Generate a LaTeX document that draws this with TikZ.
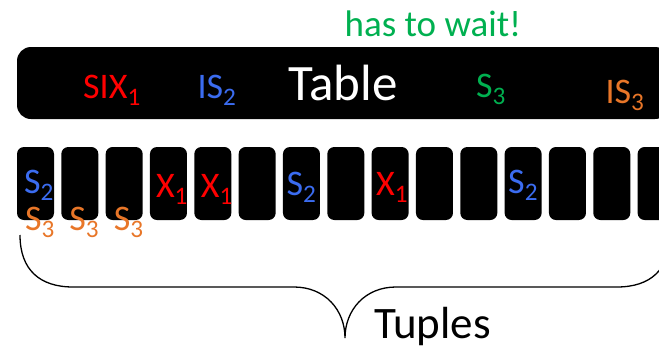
\documentclass[tikz,border=0pt]{standalone}
\usepackage{fontspec}
\setmainfont{Carlito}
\definecolor{lockred}{RGB}{255,0,0}
\definecolor{lockblue}{RGB}{59,108,240}
\definecolor{lockgreen}{RGB}{0,176,80}
\definecolor{lockorange}{RGB}{232,118,40}
\begin{document}
\begin{tikzpicture}[x=1pt, y=-1pt,
    bar/.style={fill=black, text=white, rounded corners=14, minimum width=652, minimum height=72, inner sep=0, font=\fontsize{51}{51}\selectfont},
    tuple/.style={fill=black, rounded corners=7, minimum width=37, minimum height=73, inner sep=0},
    lock/.style={anchor=base, inner sep=0, font=\fontsize{36}{36}\selectfont}]
    \useasboundingbox (0,0) rectangle (659,351);
    \clip (0,0) rectangle (659,351);
    \node[lock, text=lockgreen, font=\fontsize{37}{37}\selectfont] (wait) at (433,36) {has to wait!};
    \node[bar] (table) at (343,83) {Table};
    \node[lock, text=lockred] (six1) at (112,98) {SIX\textsubscript{1}};
    \node[lock, text=lockblue] (is2) at (217,98) {IS\textsubscript{2}};
    \node[lock, text=lockgreen] (s3) at (491,97) {S\textsubscript{3}};
    \node[lock, text=lockorange] (is3) at (625,103) {IS\textsubscript{3}};
    \foreach \i in {1,...,15}
        \node[tuple] (t\i) at ({35.5+44.33*(\i-1)},183.5) {};
    \node[lock, text=lockblue] (t1s2) at ([shift={(3.5,9.5)}]t1.center) {S\textsubscript{2}};
    \foreach \i in {1,2,3}
        \node[lock, text=lockorange] (t\i s3) at ([shift={(4.5,46.5)}]t\i.center) {S\textsubscript{3}};
    \node[lock, text=lockred] (t4x1) at ([shift={(3.5,13.5)}]t4.center) {X\textsubscript{1}};
    \node[lock, text=lockred] (t5x1) at ([shift={(4,13.5)}]t5.center) {X\textsubscript{1}};
    \node[lock, text=lockblue] (t7s2) at ([shift={(0,11.5)}]t7.center) {S\textsubscript{2}};
    \node[lock, text=lockred] (t9x1) at ([shift={(2,11.5)}]t9.center) {X\textsubscript{1}};
    \node[lock, text=lockblue] (t12s2) at ([shift={(0,9.5)}]t12.center) {S\textsubscript{2}};
    \draw[line width=1.3] (20,235) .. controls (20,270) and (40,287) .. (73,287) -- (294,287)
        .. controls (325,287) and (345,310) .. (345,338)
        .. controls (345,310) and (365,287) .. (396,287) -- (617,287)
        .. controls (650,287) and (670,270) .. (670,235);
    \node[anchor=base west, inner sep=0, font=\fontsize{45}{45}\selectfont] (tuples) at (374,338) {Tuples};
\end{tikzpicture}
\end{document}
